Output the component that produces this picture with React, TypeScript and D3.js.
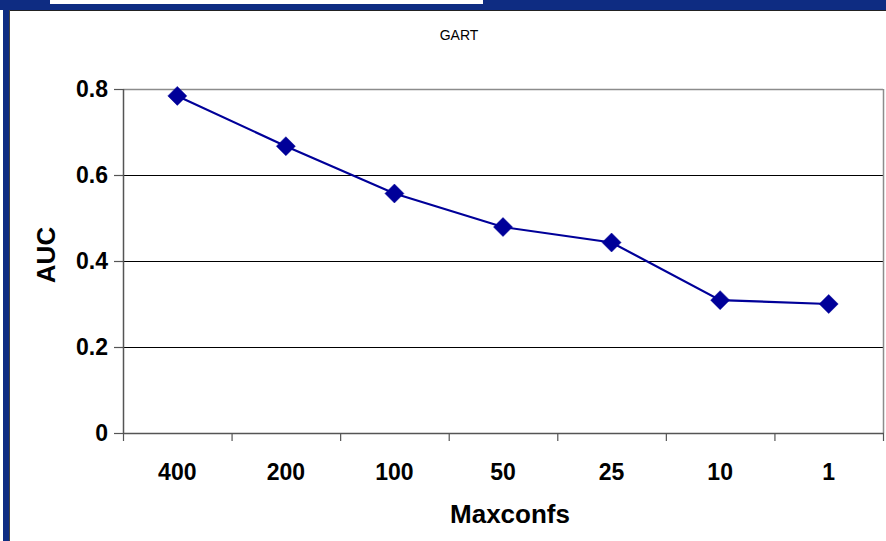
import React from "react";
import * as d3 from "d3";

const categories: string[] = ["400", "200", "100", "50", "25", "10", "1"];
const aucValues: number[] = [0.784, 0.667, 0.557, 0.479, 0.443, 0.309, 0.3];
const yTicks: number[] = [0, 0.2, 0.4, 0.6, 0.8];
const yTickLabels: string[] = ["0", "0.2", "0.4", "0.6", "0.8"];
const chartTitle = "GART";
const xTitle = "Maxconfs";
const yTitle = "AUC";

const W = 886;
const H = 541;
const plot = { left: 123, right: 883, top: 89, bottom: 433 };
const navy = "#000099";
const frameBlue = "#0e2c82";
const font = "'Liberation Sans', Arial, sans-serif";

export default function App() {
  const x = d3
    .scaleBand<string>()
    .domain(categories)
    .range([plot.left, plot.right])
    .paddingInner(0)
    .paddingOuter(0);
  const y = d3.scaleLinear().domain([0, 0.8]).range([plot.bottom, plot.top]);

  const cx = (c: string) => (x(c) as number) + x.bandwidth() / 2;
  const pts: [number, number][] = categories.map((c, i) => [cx(c), y(aucValues[i])]);
  const line = d3.line<[number, number]>()(pts) as string;

  const boundaries = d3.range(categories.length + 1).map((i) => plot.left + i * x.bandwidth());
  const ds = 9.5;

  return (
    <svg
      width={W}
      height={H}
      style={{ position: "absolute", left: 0, top: 0, display: "block" }}
    >
      <rect x={0} y={0} width={W} height={H} fill="#ffffff" />
      {/* frame */}
      <rect x={0} y={0} width={W} height={10} fill={frameBlue} />
      <rect x={50} y={0} width={433} height={4} fill="#ffffff" />
      <rect x={3} y={0} width={6} height={H} fill={frameBlue} />
      <line x1={9} x2={W} y1={10.5} y2={10.5} stroke="#222" strokeWidth={1} />
      <line x1={9.5} x2={9.5} y1={10} y2={H} stroke="#444" strokeWidth={1} />

      <text x={459} y={40} textAnchor="middle" fontFamily={font} fontSize={14} fill="#000">
        {chartTitle}
      </text>

      {/* gridlines */}
      {yTicks.slice(1, -1).map((t) => (
        <line key={t} x1={plot.left} x2={plot.right} y1={Math.round(y(t)) + 0.5} y2={Math.round(y(t)) + 0.5} stroke="#000" strokeWidth={1} />
      ))}
      {/* plot border */}
      <line x1={plot.left} x2={plot.right} y1={plot.top + 0.5} y2={plot.top + 0.5} stroke="#8c8c8c" strokeWidth={1.5} />
      <line x1={plot.right + 0.5} x2={plot.right + 0.5} y1={plot.top} y2={plot.bottom} stroke="#8c8c8c" strokeWidth={1.5} />

      {/* axes */}
      <line x1={plot.left + 0.5} x2={plot.left + 0.5} y1={plot.top} y2={plot.bottom} stroke="#555" strokeWidth={1.5} />
      <line x1={plot.left} x2={plot.right + 1} y1={plot.bottom + 0.5} y2={plot.bottom + 0.5} stroke="#555" strokeWidth={1.5} />
      {yTicks.map((t, i) => (
        <g key={t}>
          <line x1={plot.left - 9} x2={plot.left} y1={Math.round(y(t)) + 0.5} y2={Math.round(y(t)) + 0.5} stroke="#555" strokeWidth={1.2} />
          <text x={108} y={y(t)} dy="0.36em" textAnchor="end" fontFamily={font} fontWeight="bold" fontSize={23} fill="#000">
            {yTickLabels[i]}
          </text>
        </g>
      ))}
      {boundaries.map((b, i) => (
        <line key={i} x1={b + 0.5} x2={b + 0.5} y1={plot.bottom} y2={plot.bottom + 8} stroke="#555" strokeWidth={1.2} />
      ))}
      {categories.map((c) => (
        <text key={c} x={cx(c)} y={472} dy="0.36em" textAnchor="middle" fontFamily={font} fontWeight="bold" fontSize={23} fill="#000">
          {c}
        </text>
      ))}

      <text x={510} y={514} dy="0.36em" textAnchor="middle" fontFamily={font} fontWeight="bold" fontSize={26} fill="#000">
        {xTitle}
      </text>
      <text
        transform={`translate(46, ${(plot.top + plot.bottom) / 2 - 6}) rotate(-90)`}
        textAnchor="middle"
        dy="0.36em"
        fontFamily={font}
        fontWeight="bold"
        fontSize={26}
        fill="#000"
      >
        {yTitle}
      </text>

      {/* series */}
      <path d={line} fill="none" stroke={navy} strokeWidth={2.2} />
      {pts.map(([px, py], i) => (
        <path
          key={i}
          d={`M${px},${py - ds}L${px + ds},${py}L${px},${py + ds}L${px - ds},${py}Z`}
          fill={navy}
          stroke={navy}
          strokeWidth={0.5}
        />
      ))}
    </svg>
  );
}
